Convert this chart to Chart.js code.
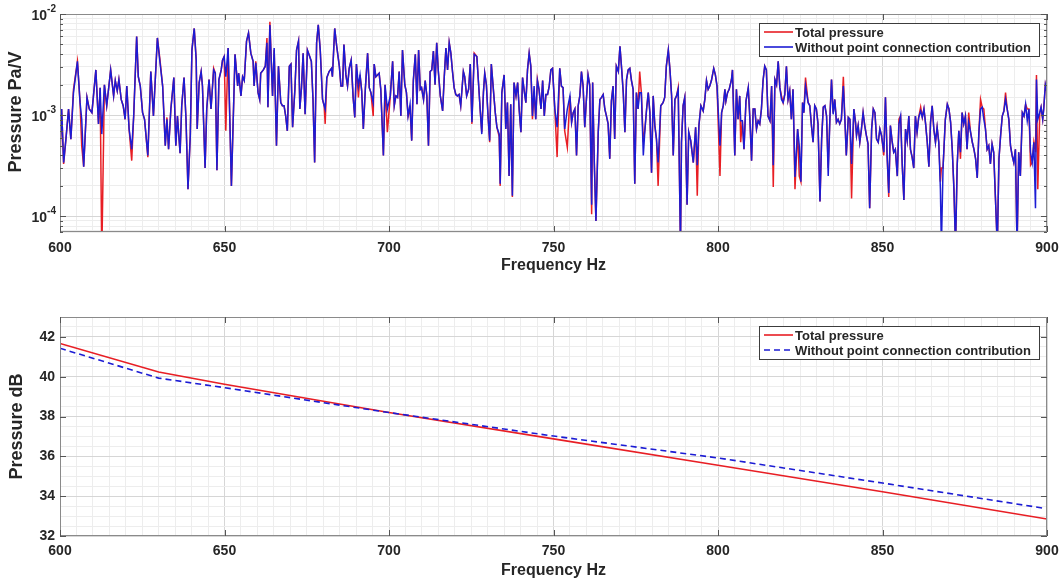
<!DOCTYPE html>
<html>
<head>
<meta charset="utf-8">
<script src="https://cdn.jsdelivr.net/npm/chart.js@4.4.0/dist/chart.umd.min.js"></script>
<style>
  body { margin: 0; background: #fff; width: 1062px; height: 581px; overflow: hidden; position: relative; }
  canvas { position: absolute; left: 0; }
  #topChart { top: 0; }
  #bottomChart { top: 300px; }
</style>
</head>
<body>
<canvas id="topChart" width="1062" height="282"></canvas>
<canvas id="bottomChart" width="1062" height="281"></canvas>
<script>
// ---- top chart data: frequencies (Hz) where the curve was read, values in 1e-3 Pa/V ----
const PA_UNIT = 1e-3;

const freqHz = [
  600.0, 600.5, 601.1, 601.8, 602.6, 603.3, 604.1, 605.3, 606.1, 606.6,
  607.2, 608.2, 608.9, 609.7, 610.9, 611.7, 612.2, 612.7, 613.5, 614.2,
  615.4, 616.3, 616.8, 617.4, 617.9, 618.6, 619.2, 619.8, 620.3, 621.0,
  621.8, 622.4, 623.3, 623.8, 624.4, 625.1, 625.7, 626.7, 627.6, 628.4,
  629.6, 630.4, 631.2, 632.0, 632.5, 633.0, 633.7, 634.6, 635.2, 635.7,
  636.5, 637.0, 637.7, 638.3, 638.9, 639.6, 640.1, 640.8, 641.4, 641.7,
  642.3, 642.9, 643.3, 644.1, 644.6, 645.3, 645.9, 646.7, 647.2, 647.7,
  648.3, 649.0, 649.4, 649.9,
  650.4, 651.1, 652.1, 653.2, 654.0, 654.3, 655.0, 655.5, 656.0, 656.7,
  657.3, 658.0, 658.7, 659.0, 659.5, 660.2, 660.7, 661.0, 661.8, 662.4,
  662.9, 663.2, 663.8, 664.6, 665.1, 665.8, 666.4, 667.1, 667.6, 668.1,
  668.6, 669.1, 669.7, 670.2, 670.7, 671.4, 671.9, 672.5, 672.9, 673.4,
  673.9, 674.5, 675.2, 675.9, 676.4, 676.9, 677.4, 678.0, 678.5, 679.1,
  679.8, 680.3, 680.6, 681.1, 681.8, 682.5, 682.8, 683.5, 684.1, 684.9,
  685.4, 685.9, 686.3, 686.9, 687.4, 687.9, 688.5, 689.1, 689.6, 690.1,
  690.7, 691.2, 691.7, 692.2, 692.8, 693.5, 694.0, 694.5, 695.2, 695.5,
  696.0, 696.5, 697.0, 697.5, 698.3, 698.8, 699.5,
  700.4, 701.1, 701.6, 702.1, 702.6, 703.1, 703.6, 704.1, 704.8, 705.3,
  705.8, 706.4, 706.9, 707.4, 708.0, 708.5, 709.0, 709.5, 709.9, 710.5,
  711.0, 711.5, 712.0, 712.5, 713.0, 713.5, 714.0, 714.5, 715.0, 715.6,
  716.3, 716.8, 717.3, 717.8, 718.3, 718.8, 719.3, 719.8, 720.3, 720.8,
  721.3, 721.8, 722.6, 723.0, 723.6, 724.2, 724.7, 725.2, 725.9, 726.7,
  727.2, 727.7, 728.2, 728.7, 729.1, 729.6, 730.1, 730.6, 731.1, 731.8,
  732.3, 732.8, 733.5, 733.8, 734.3, 735.0, 735.5, 736.0, 736.5, 737.0,
  737.5, 738.0, 738.6, 739.1, 739.6, 740.1, 740.6, 741.1, 741.6, 742.1,
  742.6, 743.1, 743.6, 744.1, 744.6, 745.1, 745.6, 746.2, 746.7, 747.2,
  747.7, 748.2, 748.7, 749.2, 749.7,
  750.4, 751.1, 751.9, 752.4, 752.9, 753.4, 754.2, 755.0, 755.5, 756.0,
  756.5, 757.0, 757.5, 758.0, 758.5, 759.0, 759.5, 760.0, 760.5, 761.0,
  761.6, 761.9, 762.4, 762.9, 763.6, 764.1, 764.6, 765.1, 765.6, 766.1,
  766.6, 767.1, 767.6, 768.1, 768.6, 769.1, 769.7, 770.2, 770.7, 771.2,
  771.7, 772.2, 772.7, 773.2, 773.7, 774.2, 774.7, 775.2, 775.7, 776.2,
  776.7, 777.3, 777.8, 778.3, 778.8, 779.3, 779.8, 780.3, 780.8, 781.3,
  781.8, 782.6, 783.3, 783.8, 784.3, 784.9, 785.4, 785.9, 786.4, 786.9,
  787.4, 787.9, 788.6, 788.9, 789.4, 789.9, 790.6, 791.1, 791.7, 792.5,
  793.2, 793.7, 794.2, 794.8, 795.5, 796.0, 796.5, 797.0, 797.5, 798.0,
  798.7, 799.2, 799.7,
  800.6, 801.1, 801.6, 802.1, 802.4, 802.9, 803.4, 804.1, 804.4, 805.1,
  805.6, 806.1, 806.6, 806.9, 807.4, 807.9, 808.5, 809.2, 809.7, 810.2,
  810.7, 811.2, 811.7, 812.2, 812.7, 813.2, 813.7, 814.2, 814.7, 815.2,
  815.8, 816.3, 816.8, 817.3, 817.8, 818.3, 818.8, 819.3, 819.8, 820.3,
  820.8, 821.3, 821.8, 822.3, 822.8, 823.4, 824.2, 824.7, 825.2, 825.7,
  826.1, 826.6, 827.4, 827.9, 828.4, 828.9, 829.4, 829.9, 830.4, 831.0,
  831.5, 832.0, 832.5, 833.0, 833.5, 834.0, 834.5, 835.0, 835.5, 836.0,
  836.5, 837.0, 837.5, 838.1, 838.6, 839.0, 839.6, 840.1, 840.6, 841.3,
  841.8, 842.1, 842.6, 843.1, 843.6, 844.1, 844.6, 845.1, 845.6, 846.1,
  846.7, 847.2, 847.7, 848.2, 848.7, 849.2, 849.7,
  850.4, 850.9, 851.4, 851.9, 852.4, 852.9, 853.4, 853.9, 854.5, 855.0,
  855.5, 856.0, 856.5, 857.0, 857.5, 858.0, 858.5, 859.0, 859.5, 860.0,
  860.5, 861.0, 861.6, 862.1, 862.6, 863.1, 863.6, 864.1, 864.6, 865.1,
  865.6, 866.1, 866.6, 867.1, 867.6, 867.9, 868.4, 869.1, 869.7, 870.2,
  870.7, 871.2, 871.7, 872.2, 872.7, 873.2, 873.7, 874.2, 874.7, 875.2,
  875.7, 876.2, 876.7, 877.3, 877.8, 878.3, 878.8, 879.3, 879.8, 880.3,
  880.8, 881.3, 881.8, 882.3, 882.8, 883.3, 883.8, 884.3, 884.9, 885.4,
  885.9, 886.4, 886.9, 887.4, 887.9, 888.4, 888.9, 889.4, 889.9, 890.4,
  890.9, 891.4, 891.9, 892.5, 893.0, 893.5, 894.0, 894.5, 895.0, 895.5,
  896.0, 896.5, 896.8, 897.2, 897.8, 898.2, 898.7, 899.0, 899.5, 900.0
];

const totalPressure = [
  0.37, 1.15, 0.33, 0.58, 1.15, 0.58, 1.8, 3.4, 1.33, 0.50,
  0.31, 1.5, 1.15, 1.06, 2.8, 0.82, 1.87, 0.04, 2.0, 1.24,
  2.8, 1.55, 2.2, 1.74, 2.25, 1.43, 1.24, 0.91, 1.94, 0.73,
  0.355, 0.98, 6.0, 2.4, 1.94, 1.06, 0.91, 0.385, 2.7, 0.98,
  5.8, 3.5, 1.94, 0.50, 0.95, 0.46, 1.15, 2.35, 0.50, 0.98,
  0.42, 1.24, 2.35, 0.91, 0.185, 0.63, 4.4, 7.2, 3.5, 0.73,
  2.1, 2.7, 1.94, 0.30, 1.15, 2.25, 1.15, 2.9, 2.6, 0.285,
  2.25, 2.8, 3.5, 3.8,
  0.70, 4.6, 0.20, 4.0, 1.94, 2.6, 1.55, 2.4, 2.2, 5.4,
  6.5, 4.1, 3.4, 1.94, 3.4, 1.67, 1.43, 2.6, 2.8, 3.05,
  5.8, 1.2, 8.4, 1.55, 4.4, 0.50, 3.05, 1.33, 1.24, 1.24,
  0.98, 0.70, 3.05, 3.2, 0.76, 1.8, 4.4, 5.4, 1.15, 1.87,
  4.1, 1.02, 4.4, 3.8, 3.4, 1.43, 0.34, 5.2, 7.8, 4.4,
  1.43, 1.24, 0.82, 2.35, 2.7, 2.9, 2.4, 7.2, 4.8, 3.05,
  1.94, 1.94, 5.0, 2.5, 1.94, 2.9, 3.5, 1.5, 0.95, 3.2,
  1.5, 2.5, 1.74, 0.73, 1.8, 4.1, 1.87, 1.67, 0.98, 3.2,
  2.4, 2.5, 2.6, 1.8, 0.40, 2.0, 0.68,
  1.55, 3.4, 1.24, 1.55, 1.5, 2.7, 0.98, 4.4, 2.0, 1.67,
  0.98, 1.15, 0.56, 2.2, 4.0, 1.28, 4.4, 1.8, 1.87, 1.43,
  2.2, 1.55, 0.50, 2.7, 2.8, 4.3, 2.0, 5.2, 2.7, 1.55,
  1.1, 2.4, 4.6, 2.8, 5.2, 4.1, 2.7, 1.87, 1.6, 1.55,
  1.6, 1.24, 2.7, 2.4, 1.55, 1.8, 3.2, 0.82, 4.1, 3.8,
  2.1, 1.15, 0.68, 1.67, 2.6, 2.0, 0.98, 0.54, 3.2, 1.67,
  1.06, 0.76, 0.61, 0.20, 1.67, 2.5, 0.73, 1.33, 0.25, 1.28,
  0.155, 2.1, 1.55, 2.1, 1.1, 0.68, 2.35, 1.74, 1.33, 2.8,
  4.1, 3.05, 0.91, 1.67, 0.91, 2.25, 1.8, 1.15, 2.2, 0.98,
  1.6, 1.6, 1.94, 2.8, 2.9,
  1.15, 0.385, 2.9, 1.94, 1.87, 0.70, 0.48, 1.55, 0.85, 1.06,
  1.15, 0.40, 1.24, 1.55, 2.7, 1.94, 0.76, 1.43, 2.5, 2.0,
  0.105, 2.1, 0.34, 0.09, 0.68, 1.43, 1.5, 1.6, 1.15, 0.98,
  0.82, 0.37, 1.38, 1.94, 0.58, 3.05, 2.7, 4.8, 2.9, 1.67,
  0.68, 2.25, 2.8, 2.9, 2.2, 1.8, 0.21, 1.67, 1.15, 2.7,
  1.67, 0.54, 0.73, 1.15, 1.67, 1.06, 0.27, 1.55, 0.79, 0.58,
  0.20, 1.24, 1.33, 1.5, 3.05, 4.4, 2.8, 1.55, 0.40, 1.43,
  1.55, 1.87, 0.05, 0.54, 1.24, 1.5, 0.13, 0.68, 0.56, 0.34,
  0.76, 0.16, 0.79, 1.24, 1.1, 1.43, 2.2, 1.8, 1.94, 2.2,
  2.9, 2.5, 1.94,
  0.25, 1.06, 1.24, 1.8, 1.38, 1.67, 1.8, 2.25, 2.8, 0.40,
  1.8, 0.91, 1.55, 0.54, 0.88, 0.46, 1.38, 1.87, 0.91, 0.355,
  1.15, 1.15, 0.73, 0.88, 0.82, 1.15, 2.2, 3.05, 2.8, 0.98,
  0.88, 1.94, 0.195, 2.25, 2.0, 3.4, 1.87, 1.55, 1.33, 1.6,
  3.05, 1.43, 1.74, 0.91, 1.8, 0.185, 0.73, 0.25, 0.22, 1.33,
  1.06, 2.35, 1.33, 1.24, 0.79, 0.54, 1.24, 1.15, 0.82, 0.14,
  0.58, 1.2, 1.24, 0.98, 0.30, 0.91, 2.25, 1.06, 1.43, 0.85,
  0.91, 0.82, 0.91, 2.4, 0.85, 0.40, 0.95, 0.91, 0.15, 1.15,
  0.85, 0.63, 0.79, 0.54, 0.73, 1.06, 0.79, 0.63, 0.52, 0.12,
  0.73, 1.15, 1.06, 0.58, 0.54, 0.73, 0.63,
  0.40, 1.5, 0.40, 0.155, 0.79, 0.56, 0.43, 0.46, 0.25, 0.91,
  0.98, 0.32, 0.145, 0.73, 0.56, 0.98, 0.46, 0.385, 0.30, 0.98,
  0.68, 0.95, 1.2, 0.95, 1.15, 0.82, 0.54, 0.31, 0.85, 1.24,
  0.73, 0.54, 0.76, 0.54, 0.22, 0.30, 0.30, 0.91, 1.28, 1.15,
  0.85, 0.46, 0.19, 0.05, 0.32, 0.70, 0.37, 1.06, 0.82, 0.98,
  0.46, 1.06, 0.70, 0.54, 0.46, 0.37, 0.24, 0.68, 1.43, 1.2,
  1.15, 0.73, 0.46, 0.50, 0.33, 0.52, 0.43, 0.16, 0.05, 0.37,
  0.63, 0.98, 1.1, 1.67, 1.15, 0.91, 0.50, 0.40, 0.34, 0.46,
  0.05, 0.43, 0.25, 1.06, 0.98, 1.28, 1.15, 1.15, 0.32, 0.34,
  0.54, 0.43, 2.5, 0.185, 1.06, 1.2, 0.91, 1.15, 2.0, 1.67
];

const withoutPointConn = [
  0.46, 1.15, 0.34, 0.58, 1.15, 0.58, 1.67, 3.4, 1.33, 0.91,
  0.31, 1.5, 1.15, 1.06, 2.8, 0.82, 1.87, 0.65, 2.0, 1.24,
  2.8, 1.55, 2.2, 1.74, 2.25, 1.43, 1.24, 0.91, 1.94, 0.73,
  0.46, 0.98, 6.0, 2.4, 1.94, 1.06, 0.91, 0.40, 2.7, 0.98,
  5.8, 3.3, 1.94, 0.50, 0.91, 0.46, 1.15, 2.35, 0.50, 0.98,
  0.42, 1.24, 2.35, 0.91, 0.185, 0.63, 4.4, 7.2, 3.5, 0.73,
  2.1, 2.7, 1.94, 0.30, 1.15, 2.25, 1.15, 2.8, 2.6, 0.285,
  2.25, 2.8, 3.5, 3.8,
  2.4, 4.6, 0.20, 4.0, 1.94, 2.6, 1.55, 2.4, 2.2, 5.4,
  6.5, 4.1, 3.4, 1.94, 3.3, 1.67, 1.43, 2.6, 2.8, 3.05,
  5.2, 1.2, 7.8, 1.55, 4.6, 0.50, 3.05, 1.33, 1.24, 1.24,
  0.98, 0.70, 3.05, 3.2, 0.76, 1.8, 4.4, 5.4, 1.15, 1.87,
  4.1, 1.02, 4.4, 3.8, 3.4, 1.43, 0.34, 5.2, 7.8, 4.4,
  1.43, 1.24, 1.15, 2.35, 2.7, 2.9, 2.4, 7.2, 4.8, 3.05,
  1.94, 1.94, 5.0, 2.5, 1.94, 2.9, 3.5, 1.5, 0.95, 3.2,
  1.94, 2.5, 1.74, 0.73, 1.8, 4.1, 1.87, 1.67, 1.33, 3.2,
  2.4, 2.5, 2.6, 1.8, 0.40, 2.0, 1.15,
  1.55, 3.4, 1.24, 1.55, 1.5, 2.7, 0.98, 4.4, 2.0, 1.67,
  0.98, 1.28, 0.56, 2.2, 4.0, 1.28, 4.4, 1.8, 1.87, 1.43,
  2.2, 1.55, 0.50, 2.7, 2.8, 4.3, 2.0, 5.2, 2.7, 1.55,
  1.1, 2.4, 4.6, 2.8, 5.2, 4.1, 2.7, 1.87, 1.6, 1.55,
  1.6, 1.24, 2.7, 2.4, 1.55, 1.8, 3.2, 0.85, 4.0, 3.8,
  2.1, 1.15, 0.65, 1.67, 2.6, 2.0, 0.98, 0.56, 3.2, 1.67,
  1.06, 0.76, 0.65, 0.21, 1.67, 2.5, 0.73, 1.33, 0.25, 1.28,
  0.16, 2.1, 1.55, 2.1, 1.1, 0.68, 2.35, 1.74, 1.33, 2.8,
  4.1, 3.05, 0.98, 1.94, 0.91, 2.2, 1.8, 1.15, 2.2, 0.98,
  1.6, 1.6, 1.94, 2.8, 2.9,
  1.15, 0.76, 2.9, 1.94, 1.87, 0.73, 1.15, 1.55, 0.85, 1.06,
  1.15, 0.40, 1.24, 1.55, 2.7, 1.94, 0.76, 1.43, 2.5, 2.0,
  0.13, 2.1, 0.34, 0.09, 0.68, 1.43, 1.5, 1.6, 1.15, 0.98,
  0.82, 0.37, 1.38, 1.94, 0.58, 3.05, 2.7, 4.8, 2.9, 1.67,
  0.68, 2.25, 2.8, 2.9, 2.2, 1.8, 0.21, 1.67, 1.15, 1.67,
  1.67, 0.40, 0.73, 1.15, 1.67, 1.06, 0.27, 1.55, 0.79, 0.58,
  0.34, 1.24, 1.33, 1.5, 3.05, 4.4, 2.8, 1.55, 0.40, 1.43,
  1.55, 1.8, 0.05, 0.54, 1.24, 1.5, 0.13, 0.68, 0.56, 0.34,
  0.76, 0.32, 0.79, 1.24, 1.1, 1.43, 2.2, 1.8, 1.94, 2.2,
  2.9, 2.5, 1.94,
  0.50, 1.06, 1.24, 1.8, 1.38, 1.67, 1.8, 2.25, 2.8, 0.40,
  1.8, 0.91, 1.55, 0.88, 0.88, 0.46, 1.38, 1.87, 0.91, 0.355,
  1.15, 1.15, 0.73, 0.88, 0.82, 1.15, 2.2, 3.05, 2.8, 0.98,
  0.88, 1.94, 0.32, 2.25, 2.0, 3.4, 1.87, 1.43, 1.33, 1.6,
  3.05, 1.43, 1.74, 0.91, 1.8, 0.245, 0.73, 0.50, 0.22, 1.33,
  1.06, 1.94, 1.33, 1.24, 0.79, 0.54, 1.24, 1.15, 0.82, 0.14,
  0.58, 1.2, 1.24, 0.98, 0.25, 0.91, 2.25, 1.02, 1.43, 0.85,
  0.91, 0.82, 0.91, 1.94, 0.85, 0.40, 0.95, 0.91, 0.33, 1.15,
  0.85, 0.63, 0.79, 0.54, 0.73, 1.06, 0.79, 0.63, 0.52, 0.12,
  0.73, 1.15, 1.06, 0.58, 0.54, 0.73, 0.63,
  0.43, 1.5, 0.40, 0.17, 0.79, 0.56, 0.43, 0.46, 0.25, 0.82,
  0.98, 0.32, 0.145, 0.73, 0.56, 0.98, 0.46, 0.385, 0.30, 0.98,
  0.68, 0.95, 1.1, 0.95, 1.15, 0.82, 0.54, 0.31, 0.85, 1.24,
  0.73, 0.54, 0.76, 0.54, 0.185, 0.05, 0.30, 0.91, 1.28, 1.15,
  0.85, 0.46, 0.19, 0.05, 0.32, 0.70, 0.43, 1.06, 0.82, 0.98,
  0.46, 0.85, 0.70, 0.54, 0.46, 0.37, 0.24, 0.68, 1.15, 1.2,
  0.91, 0.73, 0.46, 0.50, 0.33, 0.52, 0.43, 0.16, 0.05, 0.37,
  0.63, 0.98, 1.1, 1.43, 1.15, 0.91, 0.50, 0.40, 0.34, 0.46,
  0.05, 0.43, 0.25, 1.06, 0.98, 1.28, 0.88, 1.15, 0.43, 0.34,
  0.54, 0.12, 2.25, 0.91, 1.06, 1.2, 0.91, 1.15, 2.0, 1.67
];

// ---- bottom chart data: level in dB ----
const dbFreq = [600, 630, 650, 700, 750, 800, 850, 900];
const dbTotal = [41.67, 40.24, 39.62, 38.2, 36.88, 35.55, 34.22, 32.85];
const dbWithout = [41.43, 39.93, 39.45, 38.2, 37.02, 35.92, 34.66, 33.37];

const legendLabels = ['Total pressure', 'Without point connection contribution'];
const xMajorTicks = [600, 650, 700, 750, 800, 850, 900];
const logDecades = [-4, -3, -2];

// ---- style ----
const FONT = "'Liberation Sans', Arial, Helvetica, sans-serif";
const TXT = '#262626';
const RED = 'rgb(232,30,36)';
const BLUE = 'rgb(28,28,212)';
const GRID_MAJOR = '#d6d6d6';
const GRID_MINOR = '#ededed';

Chart.defaults.font.family = FONT;
Chart.defaults.color = TXT;
Chart.defaults.animation = false;

function isPow10(v) {
  const l = Math.log10(v);
  return Math.abs(l - Math.round(l)) < 1e-6;
}

// box, inner ticks, in-plot legend and a few labels, drawn like the original figure
const framePlugin = {
  id: 'frame',
  afterDraw(chart, args, opts) {
    const { ctx, chartArea: a, scales } = chart;
    ctx.save();
    const seg = (x1, y1, x2, y2) => { ctx.beginPath(); ctx.moveTo(x1, y1); ctx.lineTo(x2, y2); ctx.stroke(); };

    ctx.strokeStyle = '#8a8a8a';
    ctx.lineWidth = 1;
    ctx.strokeRect(a.left + 0.5, a.top + 0.5, a.right - a.left - 1, a.bottom - a.top - 1);

    ctx.strokeStyle = '#555';
    xMajorTicks.forEach(v => {
      const px = Math.round(scales.x.getPixelForValue(v)) + 0.5;
      seg(px, a.bottom, px, a.bottom - 6);
      seg(px, a.top, px, a.top + 6);
    });
    (opts.yTicks || []).forEach(t => {
      if (t.v < scales.y.min || t.v > scales.y.max) return;
      const py = Math.round(scales.y.getPixelForValue(t.v)) + 0.5;
      seg(a.left, py, a.left + t.len, py);
      seg(a.right, py, a.right - t.len, py);
    });

    const L = opts.legend;
    if (L) {
      ctx.fillStyle = '#fff';
      ctx.fillRect(L.x, L.y, L.w, L.h);
      ctx.strokeStyle = '#3c3c3c';
      ctx.strokeRect(L.x + 0.5, L.y + 0.5, L.w, L.h);
      ctx.font = `bold 13px ${FONT}`;
      ctx.textBaseline = 'middle';
      ctx.textAlign = 'left';
      chart.data.datasets.forEach((ds, i) => {
        const yy = L.y + 9 + i * 15;
        ctx.strokeStyle = ds.borderColor;
        ctx.lineWidth = 1.6;
        ctx.setLineDash(ds.borderDash || []);
        seg(L.x + 5, yy, L.x + 34, yy);
        ctx.setLineDash([]);
        ctx.fillStyle = TXT;
        ctx.fillText(ds.label, L.x + 36, yy + 1);
      });
    }

    if (opts.logLabels) {
      logDecades.forEach(e => {
        const py = scales.y.getPixelForValue(Math.pow(10, e));
        ctx.fillStyle = TXT;
        ctx.textAlign = 'right';
        ctx.textBaseline = 'middle';
        ctx.font = `bold 10px ${FONT}`;
        const expTxt = String(e);
        const ew = ctx.measureText(expTxt).width;
        ctx.fillText(expTxt, 56, py - 5);
        ctx.font = `bold 14px ${FONT}`;
        ctx.fillText('10', 56 - ew, py + 2);
      });
    }

    if (opts.yTitle) {
      ctx.save();
      ctx.translate(opts.yTitle.x, opts.yTitle.y);
      ctx.rotate(-Math.PI / 2);
      ctx.font = `bold 18px ${FONT}`;
      ctx.fillStyle = TXT;
      ctx.textAlign = 'center';
      ctx.textBaseline = 'middle';
      ctx.fillText(opts.yTitle.text, 0, 0);
      ctx.restore();
    }
    ctx.restore();
  }
};

function xAxis(height, labelPad) {
  return {
    type: 'linear',
    min: 600,
    max: 900,
    // fixed height, and no extra side padding for the end labels
    afterFit: s => { s.height = height; s.paddingLeft = 0; s.paddingRight = 0; },
    border: { display: false },
    grid: {
      drawTicks: false,
      color: c => (c.tick.value % 50 === 0 ? GRID_MAJOR : GRID_MINOR)
    },
    ticks: {
      stepSize: 5,
      autoSkip: false,
      maxRotation: 0,
      padding: labelPad,
      color: TXT,
      font: { size: 14, weight: 'bold' },
      callback: v => (v % 50 === 0 ? String(v) : '')
    },
    title: {
      display: true,
      text: 'Frequency Hz',
      color: TXT,
      font: { size: 16, weight: 'bold' },
      padding: { top: 0, bottom: 0 }
    }
  };
}

// ---- top chart ----
const topPts = arr => arr.map((v, i) => ({ x: freqHz[i], y: v * PA_UNIT }));

const logTicks = [];
[-5, -4, -3, -2].forEach(e => {
  for (let m = 1; m <= 9; m++) logTicks.push({ v: m * Math.pow(10, e), len: m === 1 ? 6 : 3 });
});

new Chart(document.getElementById('topChart'), {
  type: 'line',
  data: {
    datasets: [
      { label: legendLabels[0], data: topPts(totalPressure), borderColor: RED, borderWidth: 1.5, pointRadius: 0, order: 1 },
      { label: legendLabels[1], data: topPts(withoutPointConn), borderColor: BLUE, borderWidth: 1.5, pointRadius: 0, order: 0 }
    ]
  },
  options: {
    responsive: false,
    layout: { padding: { left: 0, right: 15, top: 14, bottom: 7 } },
    plugins: {
      legend: { display: false },
      tooltip: { enabled: false },
      frame: {
        yTicks: logTicks,
        legend: { x: 759, y: 23, w: 280, h: 33 },
        logLabels: true,
        yTitle: { text: 'Pressure Pa/V', x: 16, y: 112 }
      }
    },
    scales: {
      x: xAxis(43, 8),
      y: {
        type: 'logarithmic',
        min: 7.3e-5,
        max: 1e-2,
        afterFit: s => { s.width = 60; },
        border: { display: false },
        grid: {
          drawTicks: false,
          color: c => (isPow10(c.tick.value) ? GRID_MAJOR : GRID_MINOR)
        },
        ticks: { autoSkip: false, callback: () => '' }
      }
    }
  },
  plugins: [framePlugin]
});

// ---- bottom chart ----
const dbPts = arr => arr.map((v, i) => ({ x: dbFreq[i], y: v }));
const dbTickMarks = [32, 34, 36, 38, 40, 42].map(v => ({ v, len: 6 }));

new Chart(document.getElementById('bottomChart'), {
  type: 'line',
  data: {
    datasets: [
      { label: legendLabels[0], data: dbPts(dbTotal), borderColor: RED, borderWidth: 1.6, pointRadius: 0, order: 1 },
      { label: legendLabels[1], data: dbPts(dbWithout), borderColor: BLUE, borderWidth: 1.6, borderDash: [6, 4], pointRadius: 0, order: 0 }
    ]
  },
  options: {
    responsive: false,
    layout: { padding: { left: 0, right: 15, top: 17, bottom: 1 } },
    plugins: {
      legend: { display: false },
      tooltip: { enabled: false },
      frame: {
        yTicks: dbTickMarks,
        legend: { x: 759, y: 26, w: 280, h: 33 }
      }
    },
    scales: {
      x: xAxis(44, 7),
      y: {
        type: 'linear',
        min: 32,
        max: 43,
        afterFit: s => { s.width = 60; },
        border: { display: false },
        grid: {
          drawTicks: false,
          color: c => (c.tick.value % 2 === 0 ? GRID_MAJOR : GRID_MINOR)
        },
        ticks: {
          stepSize: 0.5,
          autoSkip: false,
          padding: 5,
          color: TXT,
          font: { size: 14, weight: 'bold' },
          callback: v => (v % 2 === 0 && v <= 42 ? String(v) : '')
        },
        title: {
          display: true,
          text: 'Pressure dB',
          color: TXT,
          font: { size: 18, weight: 'bold' },
          padding: { top: 6, bottom: 0 }
        }
      }
    }
  },
  plugins: [framePlugin]
});
</script>
</body>
</html>
